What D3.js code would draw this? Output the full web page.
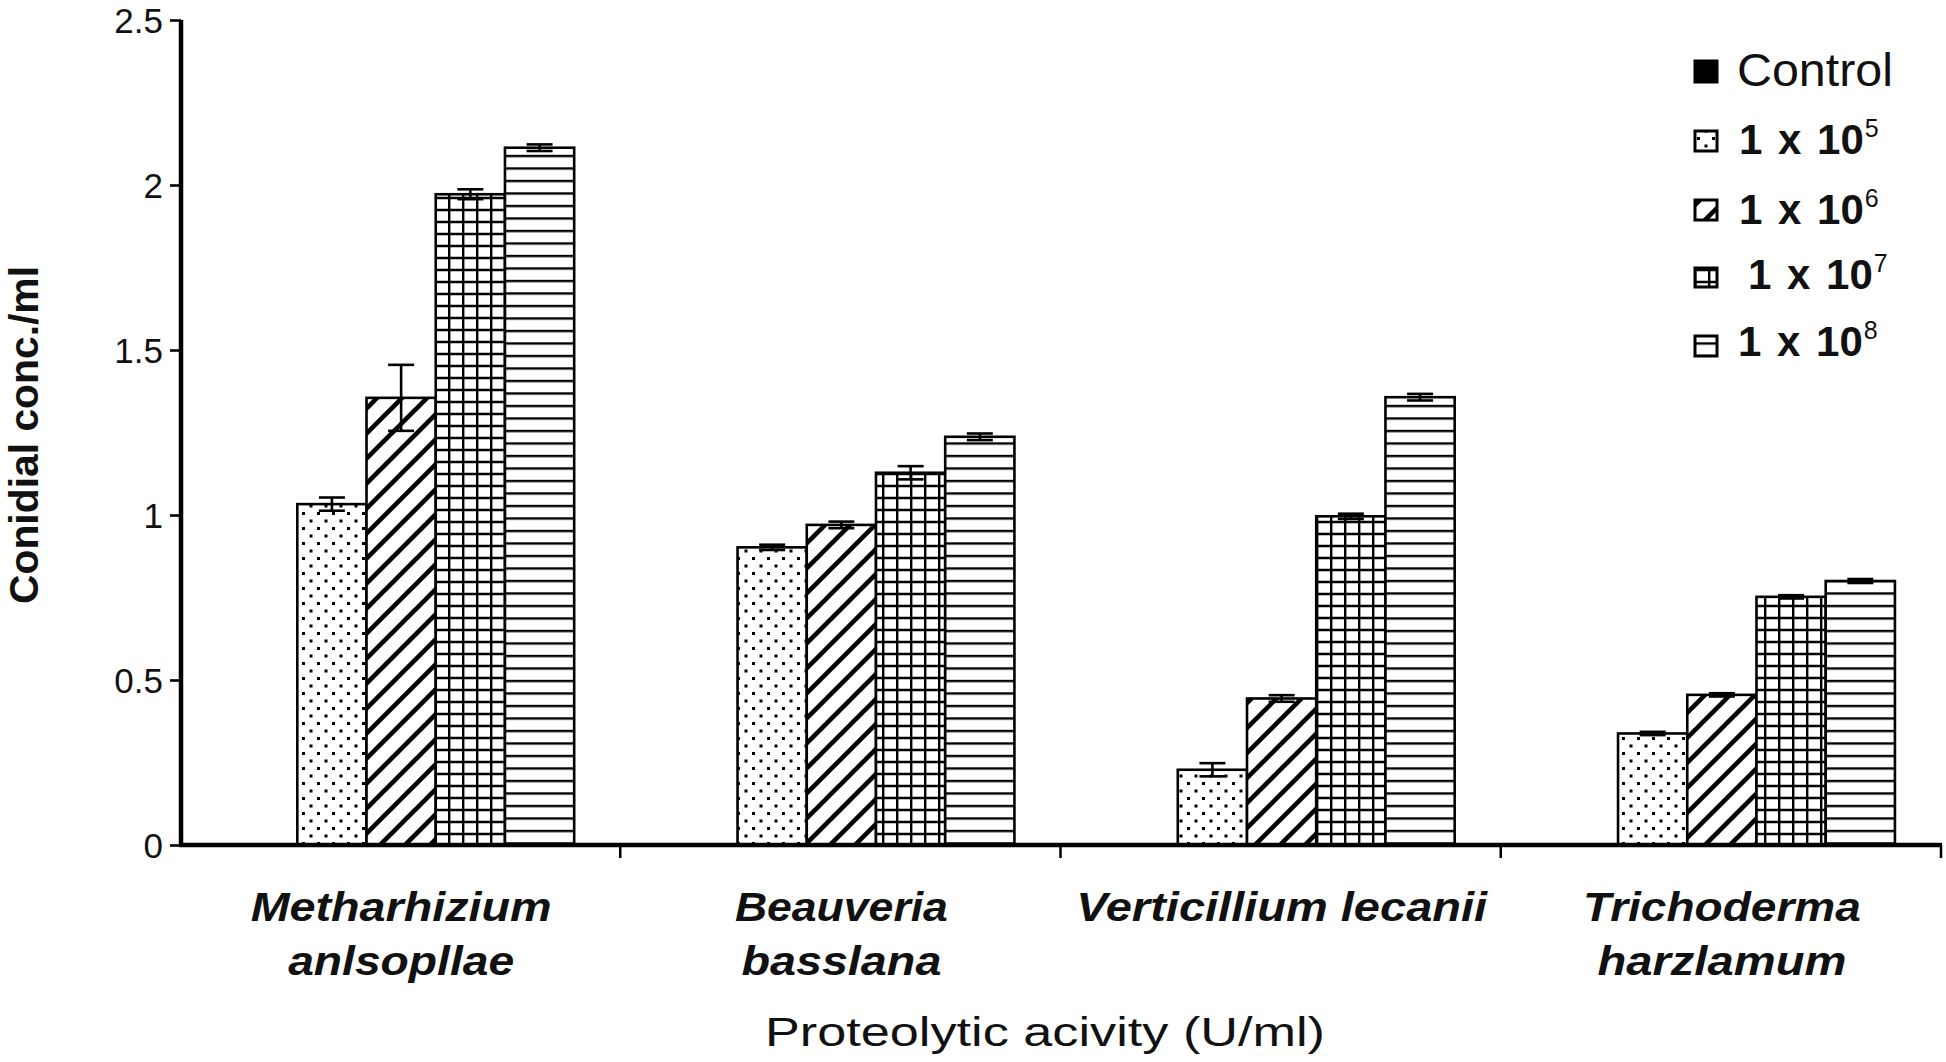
<!DOCTYPE html>
<html>
<head>
<meta charset="utf-8">
<script src="https://cdn.jsdelivr.net/npm/d3@7/dist/d3.min.js"></script>
<style>
  html, body { margin: 0; padding: 0; background: #fff; }
  svg { display: block; font-family: "Liberation Sans", Arial, sans-serif; }
</style>
</head>
<body>
<svg id="chart" width="1946" height="1062"></svg>
<script>
// ---- data ----
const categories = ["Metharhizium anlsopllae", "Beauveria basslana", "Verticillium lecanii", "Trichoderma harzlamum"];
const categoryLines = [["Metharhizium", "anlsopllae"], ["Beauveria", "basslana"], ["Verticillium lecanii"], ["Trichoderma", "harzlamum"]];
const series = ["Control", "1e5", "1e6", "1e7", "1e8"];
const legendExponents = [null, "5", "6", "7", "8"];
const valControl = [0, 0, 0, 0];
const val1e5 = [1.033, 0.902, 0.228, 0.338];
const val1e6 = [1.355, 0.970, 0.444, 0.455];
const val1e7 = [1.972, 1.128, 0.996, 0.752];
const val1e8 = [2.113, 1.237, 1.357, 0.800];
const errControl = [0, 0, 0, 0];
const err1e5 = [0.02, 0.008, 0.02, 0.005];
const err1e6 = [0.10, 0.01, 0.01, 0.005];
const err1e7 = [0.015, 0.02, 0.008, 0.005];
const err1e8 = [0.01, 0.01, 0.01, 0.006];
const yTicks = [0, 0.5, 1, 1.5, 2, 2.5];
const yTickLabels = ["0", "0.5", "1", "1.5", "2", "2.5"];

const values = [valControl, val1e5, val1e6, val1e7, val1e8];
const errors = [errControl, err1e5, err1e6, err1e7, err1e8];

// ---- layout ----
const svg = d3.select("#chart");
const xAxisPos = 181, xLeft = 181, xRight = 1942, yTop = 20, yBottom = 845;

const x0 = d3.scaleBand().domain(categories).range([xLeft, xRight]).padding(0);
const x1 = d3.scaleBand().domain(series).range([0, x0.bandwidth()]).paddingInner(0).paddingOuter(0.68);
const y = d3.scaleLinear().domain([0, 2.5]).range([yBottom, yTop]);

// ---- patterns ----
const defs = svg.append("defs");
const pDots = defs.append("pattern").attr("id", "p1e5").attr("patternUnits", "userSpaceOnUse")
  .attr("width", 15).attr("height", 15);
pDots.append("rect").attr("width", 15).attr("height", 15).attr("fill", "#fff");
pDots.append("rect").attr("x", 2).attr("y", 2).attr("width", 3).attr("height", 3).attr("fill", "#000");
pDots.append("rect").attr("x", 9.5).attr("y", 9.5).attr("width", 3).attr("height", 3).attr("fill", "#000");
const pDiag = defs.append("pattern").attr("id", "p1e6").attr("patternUnits", "userSpaceOnUse")
  .attr("width", 25).attr("height", 25);
pDiag.append("rect").attr("width", 25).attr("height", 25).attr("fill", "#fff");
pDiag.append("path").attr("d", "M-6.25,6.25 L6.25,-6.25 M0,25 L25,0 M18.75,31.25 L31.25,18.75")
  .attr("stroke", "#000").attr("stroke-width", 4.5);
const pGrid = defs.append("pattern").attr("id", "p1e7").attr("patternUnits", "userSpaceOnUse")
  .attr("width", 14).attr("height", 12);
pGrid.append("rect").attr("width", 14).attr("height", 12).attr("fill", "#fff");
pGrid.append("path").attr("d", "M1.2,0 V12 M0,6 H14").attr("stroke", "#000").attr("stroke-width", 2.4);
const pHor = defs.append("pattern").attr("id", "p1e8").attr("patternUnits", "userSpaceOnUse")
  .attr("width", 20).attr("height", 12.5);
pHor.append("rect").attr("width", 20).attr("height", 12.5).attr("fill", "#fff");
pHor.append("path").attr("d", "M0,6 H20").attr("stroke", "#000").attr("stroke-width", 2.4);

const fills = { "Control": "#000", "1e5": "url(#p1e5)", "1e6": "url(#p1e6)", "1e7": "url(#p1e7)", "1e8": "url(#p1e8)" };

// ---- bars ----
const barData = [];
categories.forEach((c, ci) => {
  series.forEach((s, si) => {
    barData.push({ cat: c, ser: s, v: values[si][ci], e: errors[si][ci] });
  });
});

svg.append("g").selectAll("rect").data(barData.filter(d => d.v > 0)).join("rect")
  .attr("x", d => x0(d.cat) + x1(d.ser))
  .attr("y", d => y(d.v))
  .attr("width", x1.bandwidth())
  .attr("height", d => y(0) - y(d.v))
  .attr("fill", d => fills[d.ser])
  .attr("stroke", "#000").attr("stroke-width", 2.6);

const eg = svg.append("g").attr("stroke", "#000").attr("stroke-width", 2.6);
barData.filter(d => d.v > 0 && d.e > 0).forEach(d => {
  const cx = x0(d.cat) + x1(d.ser) + x1.bandwidth() / 2;
  const hw = 13;
  eg.append("line").attr("x1", cx).attr("x2", cx).attr("y1", y(d.v - d.e)).attr("y2", y(d.v + d.e));
  eg.append("line").attr("x1", cx - hw).attr("x2", cx + hw).attr("y1", y(d.v + d.e)).attr("y2", y(d.v + d.e));
  eg.append("line").attr("x1", cx - hw).attr("x2", cx + hw).attr("y1", y(d.v - d.e)).attr("y2", y(d.v - d.e));
});

// ---- axes ----
const yAxis = d3.axisLeft(y).tickValues(yTicks).tickFormat((d, i) => yTickLabels[i]).tickSize(11).tickPadding(7);
const gy = svg.append("g").attr("transform", `translate(${xAxisPos},0)`).call(yAxis);
gy.select(".domain").attr("stroke-width", 4.5).attr("d", `M0,${yTop}V${yBottom}`);
gy.selectAll(".tick line").attr("stroke-width", 2.6);
gy.selectAll(".tick text").attr("font-size", 35).attr("fill", "#111").attr("dy", "0.37em")
  .attr("font-family", "'Liberation Sans', Arial, sans-serif");

const xAxis = d3.axisBottom(x0).tickValues([]).tickSizeOuter(0);
const gx = svg.append("g").attr("transform", `translate(0,${yBottom})`).call(xAxis);
gx.select(".domain").attr("stroke-width", 4.5).attr("d", `M${xAxisPos - 2},0H${xRight}`);
const bounds = categories.map(c => x0(c)).concat([xRight]);
gx.selectAll("line.bt").data(bounds.slice(1)).join("line").attr("class", "bt")
  .attr("x1", d => d - 1).attr("x2", d => d - 1).attr("y1", 0).attr("y2", 13)
  .attr("stroke", "#000").attr("stroke-width", 2.5);

// category labels
const labelWidths = [[301, 226], [213, 200], [411], [278, 249]];
categories.forEach((c, ci) => {
  const cx = x0(c) + x1("Control") + (x1("1e8") + x1.bandwidth() - x1("Control")) / 2;
  categoryLines[ci].forEach((line, li) => {
    svg.append("text").attr("x", cx).attr("y", 921 + li * 54)
      .attr("text-anchor", "middle").attr("font-style", "italic").attr("font-weight", "bold")
      .attr("font-size", 40).attr("fill", "#111")
      .attr("textLength", labelWidths[ci][li]).attr("lengthAdjust", "spacingAndGlyphs")
      .text(line);
  });
});

// axis titles
svg.append("text").attr("x", 1045).attr("y", 1046).attr("text-anchor", "middle")
  .attr("font-size", 40).attr("fill", "#111")
  .attr("textLength", 560).attr("lengthAdjust", "spacingAndGlyphs")
  .text("Proteolytic acivity (U/ml)");

svg.append("text").attr("transform", "translate(38,435) rotate(-90)").attr("text-anchor", "middle")
  .attr("font-size", 40).attr("font-weight", "bold").attr("fill", "#111")
  .attr("textLength", 338).attr("lengthAdjust", "spacingAndGlyphs")
  .text("Conidial conc./ml");

// ---- legend ----
const legendRows = [
  { s: "Control", sq: [1695, 61, 22, 21], tx: 1737, base: 86 },
  { s: "1e5", sq: [1695, 131, 22, 20], tx: 1739, base: 154 },
  { s: "1e6", sq: [1695, 200, 22, 20], tx: 1739, base: 224 },
  { s: "1e7", sq: [1695, 268, 22, 19], tx: 1748, base: 289 },
  { s: "1e8", sq: [1695, 336, 22, 20], tx: 1738, base: 356 }
];
const lg = svg.append("g");
legendRows.forEach((r, i) => {
  lg.append("rect").attr("x", r.sq[0]).attr("y", r.sq[1]).attr("width", r.sq[2]).attr("height", r.sq[3])
    .attr("fill", fills[r.s]).attr("stroke", "#000").attr("stroke-width", 3);
  if (r.s === "Control") {
    lg.append("text").attr("x", r.tx).attr("y", r.base).attr("font-size", 46).attr("fill", "#111")
      .attr("textLength", 156).attr("lengthAdjust", "spacingAndGlyphs").text("Control");
  } else {
    const t = lg.append("text").attr("x", r.tx).attr("y", r.base).attr("font-size", 42).attr("font-weight", "bold")
      .attr("fill", "#111").attr("word-spacing", 4).text("1 x 10");
    const bb = t.node().getBBox();
    lg.append("text").attr("x", bb.x + bb.width + 1).attr("y", r.base - 17).attr("font-size", 25)
      .attr("fill", "#111").text(legendExponents[i]);
  }
});
</script>
</body>
</html>
